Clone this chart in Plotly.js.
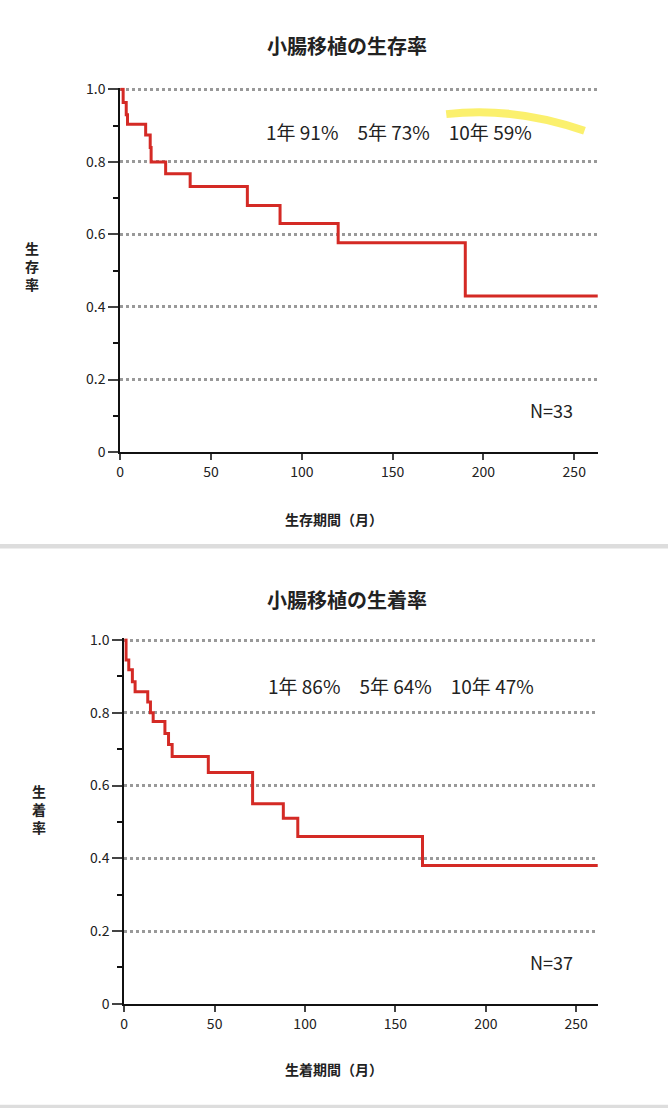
<!DOCTYPE html>
<html><head><meta charset="utf-8">
<script src="https://cdn.plot.ly/plotly-3.0.1.min.js"></script>
<style>body{margin:0;background:#fff}</style></head>
<body><div id="myDiv" style="width:668px;height:1108px"></div>
<script>
var survMonths = [0, 1.6, 3.3, 4, 14, 16.5, 17, 25, 38.5, 70, 88, 120, 190, 263];
var survRate   = [1, 0.964, 0.93, 0.904, 0.874, 0.84, 0.80, 0.767, 0.732, 0.68, 0.63, 0.577, 0.43, 0.43];
var graftMonths = [0, 1, 2.5, 4.5, 6, 13, 14.5, 16, 22.5, 24.5, 26.5, 46.5, 71, 88, 96, 165, 262];
var graftRate   = [1, 0.945, 0.918, 0.885, 0.858, 0.83, 0.80, 0.776, 0.743, 0.713, 0.68, 0.636, 0.55, 0.51, 0.46, 0.38, 0.38];
var yTicks = [0, 0.2, 0.4, 0.6, 0.8, 1.0];
var yTickText = ['0', '0.2', '0.4', '0.6', '0.8', '1.0'];

var font = 'Noto Sans CJK JP, Noto Sans, sans-serif';
var trace1 = {x: survMonths, y: survRate, mode: 'lines', line: {shape: 'hv', color: '#d42a25', width: 3}, xaxis: 'x', yaxis: 'y'};
var trace2 = {x: graftMonths, y: graftRate, mode: 'lines', line: {shape: 'hv', color: '#d42a25', width: 3}, xaxis: 'x2', yaxis: 'y2'};

function xax(dom, range, anchor) {
  return {domain: dom, range: range, anchor: anchor, tickvals: [0, 50, 100, 150, 200, 250],
    ticks: 'outside', ticklen: 6, tickwidth: 2, showline: true, linecolor: '#111', linewidth: 2,
    showgrid: false, zeroline: false, tickfont: {size: 14, color: '#222', family: font}};
}
function yax(dom, anchor) {
  return {domain: dom, range: [0, 1.005], anchor: anchor, tickvals: yTicks, ticktext: yTickText,
    ticks: 'outside', ticklen: 10, tickwidth: 2, showline: true, linecolor: '#111', linewidth: 2,
    showgrid: true, gridcolor: '#999', griddash: 'dot', gridwidth: 2.5, zeroline: false,
    tickfont: {size: 14, color: '#222', family: font},
    minor: {dtick: 0.1, ticks: 'outside', ticklen: 5, tickcolor: '#111', showgrid: false}};
}
function ann(x, y, text, size) {
  return {xref: 'paper', yref: 'paper', x: x, y: y, yanchor: 'middle', xanchor: 'center', text: text, showarrow: false,
    font: {size: size, color: '#222', family: font}};
}

var layout = {
  width: 668, height: 1108, margin: {l: 0, r: 0, t: 0, b: 0}, showlegend: false,
  paper_bgcolor: '#fff', plot_bgcolor: '#fff',
  xaxis: xax([0.18, 0.895], [0, 263], 'y'),
  yaxis: yax([0.592, 0.921], 'x'),
  xaxis2: xax([0.186, 0.895], [0, 262], 'y2'),
  yaxis2: yax([0.094, 0.424], 'x2'),
  annotations: [
    ann(0.52, 0.959, '<b>小腸移植の生存率</b>', 20),
    ann(0.597, 0.881, '1年 91%　5年 73%　10年 59%', 19),
    ann(0.825, 0.630, 'N=33', 18),
    ann(0.5, 0.532, '<b>生存期間（月）</b>', 14),
    ann(0.048, 0.76, '<b>生<br>存<br>率</b>', 14),
    ann(0.52, 0.459, '<b>小腸移植の生着率</b>', 20),
    ann(0.6, 0.381, '1年 86%　5年 64%　10年 47%', 19),
    ann(0.825, 0.132, 'N=37', 18),
    ann(0.5, 0.035, '<b>生着期間（月）</b>', 14),
    ann(0.058, 0.27, '<b>生<br>着<br>率</b>', 14)
  ],
  shapes: [
    {type: 'rect', xref: 'paper', yref: 'paper', x0: 0, x1: 1, y0: 0.505, y1: 0.509, fillcolor: '#ddd', line: {width: 0}},
    {type: 'rect', xref: 'paper', yref: 'paper', x0: 0, x1: 1, y0: 0, y1: 0.003, fillcolor: '#ddd', line: {width: 0}},
    {type: 'path', xref: 'paper', yref: 'paper', path: 'M 0.668 0.897 Q 0.77 0.904 0.875 0.882',
      line: {color: 'rgba(250,235,60,0.75)', width: 8}, layer: 'below'}
  ]
};
Plotly.newPlot('myDiv', [trace1, trace2], layout, {displayModeBar: false});
</script></body></html>
